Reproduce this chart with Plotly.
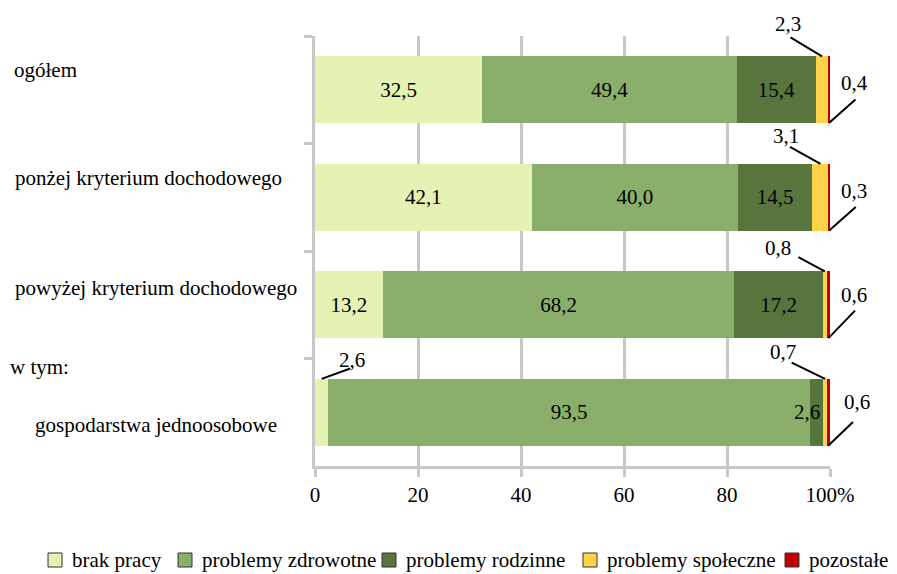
import plotly.graph_objects as go

categories = ["ogółem", "ponżej kryterium dochodowego",
              "powyżej kryterium dochodowego", "gospodarstwa jednoosobowe"]
series = ["brak pracy", "problemy zdrowotne", "problemy rodzinne",
          "problemy społeczne", "pozostałe"]
brak_pracy = [32.5, 42.1, 13.2, 2.6]
zdrowotne = [49.4, 40.0, 68.2, 93.5]
rodzinne = [15.4, 14.5, 17.2, 2.6]
spoleczne = [2.3, 3.1, 0.8, 0.7]
pozostale = [0.4, 0.3, 0.6, 0.6]
x_ticks = [0, 20, 40, 60, 80, 100]
x_tick_text = ["0", "20", "40", "60", "80", "100%"]

values = [brak_pracy, zdrowotne, rodzinne, spoleczne, pozostale]
colors = ["#E4F2B4", "#8AAF6B", "#58753E", "#FFD347", "#C00000"]
FONT = "Liberation Serif, Times New Roman, serif"
GRID = "#C8C8C8"
BAR_W = 0.62
# plot area in pixels (for placing the hand-made legend / left labels)
L, R, T, B = 315, 67, 36, 108
PW, PH = 897 - L - R, 574 - T - B

def fmt(v):
    return f"{v:.1f}".replace(".", ",")

# labels drawn outside the segment:
# (series, row): edge of bar, text offset (px), line tail offset (px) or None
outside = {
    (3, 0): ("top", (-34, -32), (-33, -20)),
    (4, 0): ("bottom", (26, -40), (28, -25)),
    (3, 1): ("top", (-34, -28), (-32, -18)),
    (4, 1): ("bottom", (25, -40), (28, -25)),
    (3, 2): ("top", (-47, -23), (-28, -15)),
    (4, 2): ("bottom", (26, -43), (28, -29)),
    (3, 3): ("top", (-42, -27), (-35, -17)),
    (4, 3): ("bottom", (29, -44), (26, -25)),
    (0, 3): ("top", (30, -19), (30, -11)),
    (2, 3): ("mid", (-10, 0), None),
}

fig = go.Figure()
for s, (name, vals, col) in enumerate(zip(series, values, colors)):
    txt = ["" if (s, r) in outside else fmt(v) for r, v in enumerate(vals)]
    fig.add_trace(go.Bar(x=vals, y=categories, orientation="h", name=name,
                         marker=dict(color=col, line=dict(width=0)),
                         text=txt, textposition="inside", insidetextanchor="middle",
                         textangle=0, textfont=dict(color="black", size=21, family=FONT),
                         showlegend=False, hoverinfo="skip"))

annotations = []
shapes = []
for (s, r), (edge, (tdx, tdy), tail) in outside.items():
    start = sum(values[k][r] for k in range(s))
    xc = start + values[s][r] / 2
    yc = {"top": r - BAR_W / 2, "bottom": r + BAR_W / 2, "mid": r}[edge]
    if tail is not None:
        annotations.append(dict(x=xc, y=yc, xref="x", yref="y", text="", showarrow=True,
                                arrowhead=0, arrowwidth=2, arrowcolor="black",
                                ax=tail[0], ay=tail[1], standoff=0, startstandoff=0))
    annotations.append(dict(x=xc, y=yc, xref="x", yref="y", text=fmt(values[s][r]),
                            showarrow=False, xshift=tdx, yshift=-tdy,
                            font=dict(size=21, family=FONT, color="black")))

# category labels on the left (left aligned, Excel-like)
cat_labels = [("ogółem", 0, 12, -20), ("ponżej kryterium dochodowego", 1, 13, -19),
              ("powyżej kryterium dochodowego", 2, 13, -17), ("w tym:", 3, 8, -45),
              ("gospodarstwa jednoosobowe", 3, 33, 13)]
for text, r, px, dy in cat_labels:
    annotations.append(dict(x=0, y=r, xref="paper", yref="y", text=text, showarrow=False,
                            xanchor="left", xshift=px - L, yshift=-dy,
                            font=dict(size=21, family=FONT, color="black")))

# legend in one row below the chart
leg_box_x = [48, 178, 382, 583, 785]
leg_y = 560
for name, col, bx in zip(series, colors, leg_box_x):
    shapes.append(dict(type="rect", xref="paper", yref="paper",
                       x0=(bx - L) / PW, x1=(bx + 14 - L) / PW,
                       y0=(T + PH - (leg_y - 7)) / PH, y1=(T + PH - (leg_y + 7)) / PH,
                       fillcolor=col, line=dict(color="#333333", width=1)))
    annotations.append(dict(x=(bx + 22 - L) / PW, y=(T + PH - leg_y) / PH,
                            xref="paper", yref="paper", text=name, showarrow=False,
                            xanchor="left", yanchor="middle",
                            font=dict(size=21, family=FONT, color="black")))

fig.update_layout(
    barmode="stack", bargap=1 - BAR_W,
    width=897, height=574,
    margin=dict(l=L, r=R, t=T, b=B),
    plot_bgcolor="white", paper_bgcolor="white",
    font=dict(family=FONT, size=21, color="black"),
    uniformtext=dict(minsize=21, mode="show"),
    showlegend=False,
    xaxis=dict(range=[0, 100], tickmode="array", tickvals=x_ticks, ticktext=x_tick_text,
               showgrid=True, gridcolor=GRID, gridwidth=2.5, zeroline=False,
               showline=True, linecolor=GRID, linewidth=2.5,
               ticks="outside", ticklen=8, tickwidth=2.5, tickcolor=GRID),
    # fixed range: annotations would otherwise stretch the category axis
    yaxis=dict(type="category", range=[len(categories) - 0.5, -0.5], showticklabels=False,
               tickson="boundaries", ticks="outside", ticklen=8, tickwidth=2.5,
               tickcolor=GRID, showline=True, linecolor=GRID, linewidth=2.5,
               showgrid=False),
    annotations=annotations,
    shapes=shapes,
)

# page has a default 8px body margin; drop it so the figure fills the window
fig.write_html("out.html", config={"displayModeBar": False},
               post_script="document.body.style.margin='0';")
